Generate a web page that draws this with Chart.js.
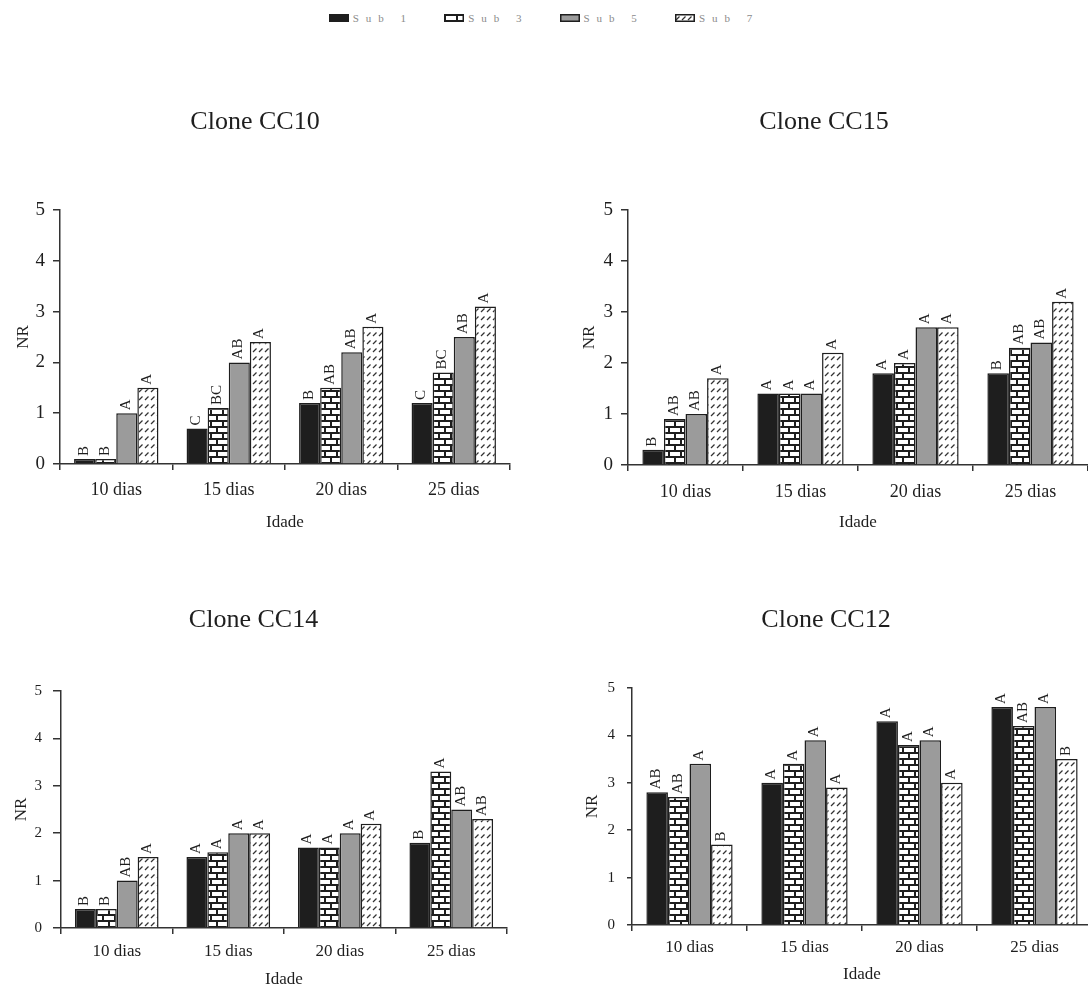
<!DOCTYPE html>
<html>
<head>
<meta charset="utf-8">
<script src="https://cdn.jsdelivr.net/npm/chart.js@4.4.1/dist/chart.umd.min.js"></script>
<style>
  html, body { margin: 0; padding: 0; background: #fff; overflow: hidden; }
  body { width: 1088px; height: 986px; position: relative; }
  canvas.panel { position: absolute; }
  #legend {
    position: absolute; top: 12px; left: 0; width: 1088px;
    display: flex; justify-content: center; gap: 31px;
    font-family: 'Liberation Serif', 'Times New Roman', serif;
    font-size: 11px; color: #8a8a8a; letter-spacing: 7px;
  }
  #legend .item { display: flex; align-items: center; }
  #legend canvas { margin-right: 4px; }
</style>
</head>
<body>
<div id="legend"></div>
<canvas class="panel" id="cc10"></canvas>
<canvas class="panel" id="cc15"></canvas>
<canvas class="panel" id="cc14"></canvas>
<canvas class="panel" id="cc12"></canvas>
<script>
// Categories, series and tick labels
const categories = ['10 dias', '15 dias', '20 dias', '25 dias'];
const seriesNames = ['Sub 1', 'Sub 3', 'Sub 5', 'Sub 7'];
const yTicks = [0, 1, 2, 3, 4, 5];

// NR values, one row per series (Sub 1, Sub 3, Sub 5, Sub 7)
const cc10Values = [
  [0.1, 0.7, 1.2, 1.2],
  [0.1, 1.1, 1.5, 1.8],
  [1.0, 2.0, 2.2, 2.5],
  [1.5, 2.4, 2.7, 3.1]
];
const cc15Values = [
  [0.3, 1.4, 1.8, 1.8],
  [0.9, 1.4, 2.0, 2.3],
  [1.0, 1.4, 2.7, 2.4],
  [1.7, 2.2, 2.7, 3.2]
];
const cc14Values = [
  [0.4, 1.5, 1.7, 1.8],
  [0.4, 1.6, 1.7, 3.3],
  [1.0, 2.0, 2.0, 2.5],
  [1.5, 2.0, 2.2, 2.3]
];
const cc12Values = [
  [2.8, 3.0, 4.3, 4.6],
  [2.7, 3.4, 3.8, 4.2],
  [3.4, 3.9, 3.9, 4.6],
  [1.7, 2.9, 3.0, 3.5]
];

// Significance letters, same layout as the values
const cc10Letters = [
  ['B', 'C', 'B', 'C'],
  ['B', 'BC', 'AB', 'BC'],
  ['A', 'AB', 'AB', 'AB'],
  ['A', 'A', 'A', 'A']
];
const cc15Letters = [
  ['B', 'A', 'A', 'B'],
  ['AB', 'A', 'A', 'AB'],
  ['AB', 'A', 'A', 'AB'],
  ['A', 'A', 'A', 'A']
];
const cc14Letters = [
  ['B', 'A', 'A', 'B'],
  ['B', 'A', 'A', 'A'],
  ['AB', 'A', 'A', 'AB'],
  ['A', 'A', 'A', 'AB']
];
const cc12Letters = [
  ['AB', 'A', 'A', 'A'],
  ['AB', 'A', 'A', 'AB'],
  ['A', 'A', 'A', 'A'],
  ['B', 'A', 'A', 'B']
];

const SERIF = "'Liberation Serif', 'Times New Roman', serif";
const INK = '#1e1e1e';

// Fill patterns for the bars
function brickPattern() {
  const c = document.createElement('canvas');
  c.width = 12; c.height = 12;
  const g = c.getContext('2d');
  g.fillStyle = '#fff';
  g.fillRect(0, 0, 12, 12);
  g.fillStyle = INK;
  g.fillRect(0, 0, 12, 2);
  g.fillRect(0, 6, 12, 2);
  g.fillRect(0, 0, 2, 6);
  g.fillRect(6, 6, 2, 6);
  return g.createPattern(c, 'repeat');
}

function hatchPattern() {
  const c = document.createElement('canvas');
  c.width = 6; c.height = 8;
  const g = c.getContext('2d');
  g.fillStyle = '#fff';
  g.fillRect(0, 0, 6, 8);
  g.strokeStyle = '#333';
  g.lineWidth = 1.2;
  g.beginPath();
  g.moveTo(1, 6);
  g.lineTo(4.5, 2.5);
  g.stroke();
  return g.createPattern(c, 'repeat');
}

const fills = [INK, brickPattern(), '#9b9b9b', hatchPattern()];

// Legend (HTML, built from the series names)
const legendEl = document.getElementById('legend');
seriesNames.forEach((name, i) => {
  const item = document.createElement('div');
  item.className = 'item';
  const sw = document.createElement('canvas');
  sw.width = 20; sw.height = 8;
  const g = sw.getContext('2d');
  g.fillStyle = fills[i];
  g.fillRect(0, 0, 20, 8);
  g.strokeStyle = INK;
  g.lineWidth = 1.5;
  g.strokeRect(0.75, 0.75, 18.5, 6.5);
  const txt = document.createElement('span');
  txt.textContent = name;
  item.appendChild(sw);
  item.appendChild(txt);
  legendEl.appendChild(item);
});

// Rotated letters above every bar
const letterPlugin = {
  id: 'letters',
  afterDatasetsDraw(chart) {
    const letters = chart.options.plugins.letters.data;
    const ctx = chart.ctx;
    ctx.save();
    ctx.font = '15px ' + SERIF;
    ctx.fillStyle = INK;
    ctx.textAlign = 'left';
    ctx.textBaseline = 'middle';
    chart.data.datasets.forEach((ds, i) => {
      chart.getDatasetMeta(i).data.forEach((bar, j) => {
        ctx.save();
        ctx.translate(bar.x - 1, bar.y - 3);
        ctx.rotate(-Math.PI / 2);
        ctx.fillText(letters[i][j], 0, 0);
        ctx.restore();
      });
    });
    ctx.restore();
  }
};

const panels = [
  { id: 'cc10', title: 'Clone CC10', values: cc10Values, letters: cc10Letters,
    left: 0, top: 90, width: 540, height: 450, titleY: 32, areaTop: 120, areaBottom: 374,
    axisW: 60, padRight: 30, yFont: 19, xFont: 18, yTickLen: 7, yTickPad: 8, nrX: 24, tickY: 26, idadeY: 59 },
  { id: 'cc15', title: 'Clone CC15', values: cc15Values, letters: cc15Letters,
    left: 560, top: 90, width: 528, height: 450, titleY: 32, areaTop: 120, areaBottom: 375,
    axisW: 68, padRight: 0, yFont: 19, xFont: 18, yTickLen: 7, yTickPad: 8, nrX: 30, tickY: 27, idadeY: 58 },
  { id: 'cc14', title: 'Clone CC14', values: cc14Values, letters: cc14Letters,
    left: 0, top: 560, width: 540, height: 440, titleY: 60, areaTop: 131, areaBottom: 368,
    axisW: 61, padRight: 33, yFont: 15, xFont: 17, yTickLen: 8, yTickPad: 11, nrX: 22, tickY: 24, idadeY: 52 },
  { id: 'cc12', title: 'Clone CC12', values: cc12Values, letters: cc12Letters,
    left: 560, top: 560, width: 532, height: 440, titleY: 60, areaTop: 128, areaBottom: 365,
    axisW: 72, padRight: 0, yFont: 15, xFont: 17, yTickLen: 5, yTickPad: 12, nrX: 33, tickY: 23, idadeY: 50 }
];

panels.forEach(p => {
  const canvas = document.getElementById(p.id);
  canvas.width = p.width;
  canvas.height = p.height;
  canvas.style.left = p.left + 'px';
  canvas.style.top = p.top + 'px';

  const titleLH = 26 * 1.2;
  const titlePadTop = p.titleY - titleLH / 2;
  const xScaleH = p.height - p.areaBottom;

  new Chart(canvas, {
    type: 'bar',
    data: {
      labels: categories,
      datasets: seriesNames.map((name, i) => ({
        label: name,
        data: p.values[i],
        backgroundColor: fills[i],
        borderColor: INK,
        borderWidth: 1.5,
        categoryPercentage: 0.75,
        barPercentage: 1.0
      }))
    },
    options: {
      responsive: false,
      animation: false,
      devicePixelRatio: 1,
      layout: { padding: { left: 0, right: p.padRight, top: 0, bottom: 0 } },
      plugins: {
        legend: { display: false },
        tooltip: { enabled: false },
        title: {
          display: true,
          text: p.title,
          color: INK,
          font: { family: SERIF, size: 26, weight: 'normal' },
          padding: { top: titlePadTop, bottom: p.areaTop - titlePadTop - titleLH }
        },
        letters: { data: p.letters }
      },
      scales: {
        x: {
          grid: { offset: true, drawOnChartArea: false, drawTicks: true, tickLength: 6, color: '#333', lineWidth: 1.5 },
          border: { color: '#333', width: 1.5 },
          ticks: { color: INK, font: { family: SERIF, size: p.xFont }, padding: p.tickY - 6 - p.xFont * 0.6, maxRotation: 0 },
          title: {
            display: true, text: 'Idade', color: INK,
            font: { family: SERIF, size: 17 },
            padding: { top: 0, bottom: xScaleH - p.idadeY - 10.2 }
          },
          afterFit: s => { s.height = xScaleH; }
        },
        y: {
          min: 0,
          max: 5,
          afterBuildTicks: s => { s.ticks = yTicks.map(v => ({ value: v })); },
          grid: { drawOnChartArea: false, drawTicks: true, tickLength: p.yTickLen, color: '#333', lineWidth: 1.5 },
          border: { color: '#333', width: 1.5 },
          ticks: { color: INK, font: { family: SERIF, size: p.yFont }, padding: p.yTickPad },
          title: {
            display: true, text: 'NR', color: INK,
            font: { family: SERIF, size: 17 },
            padding: { top: p.nrX - 10.2, bottom: 0 }
          },
          afterFit: s => { s.width = p.axisW; }
        }
      }
    },
    plugins: [letterPlugin]
  });
});
</script>
</body>
</html>
